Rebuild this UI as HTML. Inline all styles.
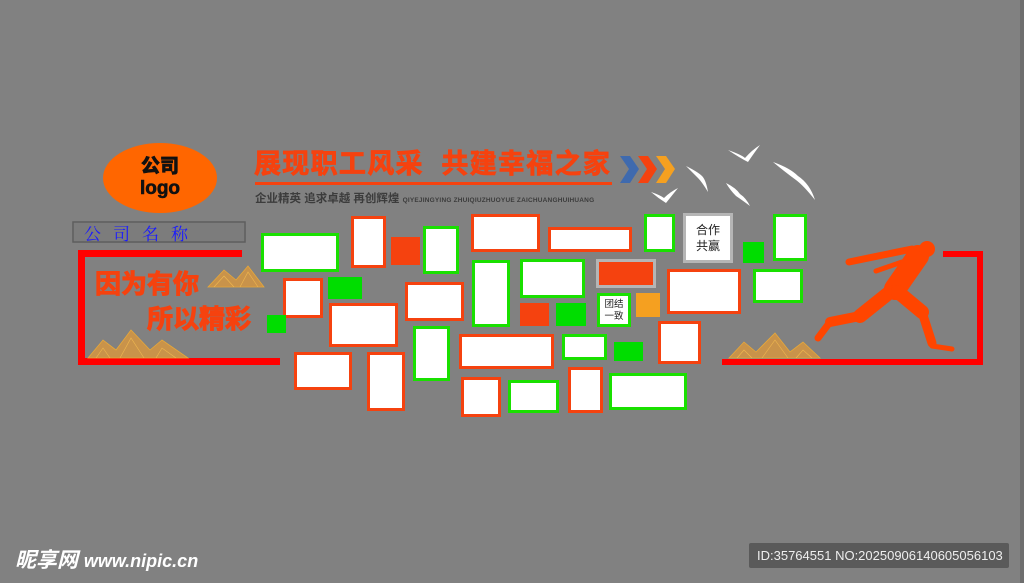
<!DOCTYPE html>
<html><head><meta charset="utf-8"><style>
*{margin:0;padding:0;box-sizing:border-box}
body{width:1024px;height:583px;background:#818181;position:relative;overflow:hidden;font-family:"Liberation Sans","Noto Sans CJK SC",sans-serif}
.a{position:absolute}
.r{position:absolute;background:#fff;border:3px solid #f5420f}
.g{position:absolute;background:#fff;border:3px solid #19e000}
.fr{position:absolute;background:#f5420f}
.fg{position:absolute;background:#00dd00}
</style></head><body>
<svg class="a" style="left:0;top:0" width="1024" height="583">
<ellipse cx="160" cy="178" rx="57" ry="35" fill="#ff6600"/>
<rect x="73" y="222" width="172" height="20" fill="#7c7c7c" stroke="#5e5e5e" stroke-width="1.5"/>
<rect x="78" y="250" width="164" height="7" fill="#ff0000"/>
<rect x="78" y="250" width="7" height="115" fill="#ff0000"/>
<rect x="78" y="358" width="202" height="7" fill="#ff0000"/>
<rect x="722" y="359" width="261" height="6" fill="#ff0000"/>
<rect x="977" y="251" width="6" height="114" fill="#ff0000"/>
<rect x="943" y="251" width="40" height="6" fill="#ff0000"/>
<g fill="#c9934a" stroke="#e8a838" stroke-width="0.8">
<polygon points="208,287 224,270 236,280 248,266 264,287"/>
<polygon points="88,358 103,340 116,350 131,330 150,350 162,340 188,358"/>
<polygon points="729,358 744,342 756,352 775,333 790,352 803,342 820,358"/>
</g>
<g fill="none" stroke="#f0b850" stroke-width="0.6">
<path d="M214,287 L224,276 L234,287 M240,287 L248,272 L258,287 M96,358 L103,348 L110,358 M120,358 L131,338 L144,358 M156,358 L162,348 L176,358 M737,358 L744,350 L752,358 M762,358 L775,340 L788,358 M796,358 L803,350 L812,358"/>
</g>
<rect x="255" y="182" width="357" height="3" fill="#f5420f"/>
<polygon points="620,156 630,156 639,169 630,183 620,183 629,169" fill="#3f6aae"/>
<polygon points="638,156 648,156 657,169 648,183 638,183 647,169" fill="#f5420f"/>
<polygon points="656,156 666,156 675,169 666,183 656,183 665,169" fill="#f5a020"/>
<g fill="#fff">
<path d="M728,150 Q742,155 745,158 Q752,150 760,145 Q752,156 748,162 Q740,158 728,150Z"/>
<path d="M686,166 Q698,172 702,176 Q706,180 708,192 Q702,182 698,178 Q692,172 686,166Z"/>
<path d="M773,162 Q790,168 798,176 Q810,184 815,200 Q804,186 796,180 Q785,172 773,162Z"/>
<path d="M726,183 Q736,188 740,194 Q746,198 750,206 Q742,200 736,196 Q730,190 726,183Z"/>
<path d="M651,192 Q660,195 664,198 Q670,192 678,188 Q670,198 666,203 Q658,198 651,192Z"/>
</g>
<g stroke="#ff4500" stroke-linecap="round" fill="none">
<line x1="849" y1="262" x2="912" y2="249" stroke-width="7"/>
<line x1="876" y1="271" x2="902" y2="262" stroke-width="5"/>
<line x1="918" y1="256" x2="895" y2="289" stroke-width="22"/>
<line x1="890" y1="292" x2="860" y2="316" stroke-width="14"/>
<line x1="860" y1="316" x2="830" y2="322" stroke-width="10"/>
<line x1="830" y1="322" x2="818" y2="338" stroke-width="7"/>
<line x1="898" y1="292" x2="922" y2="312" stroke-width="14"/>
<line x1="922" y1="312" x2="932" y2="343" stroke-width="9"/>
<line x1="932" y1="346" x2="952" y2="349" stroke-width="5"/>
</g>
<circle cx="927" cy="249" r="8" fill="#ff4500"/>
</svg>
<div class="a" style="left:103px;top:156px;width:114px;text-align:center;font-weight:900;font-size:19px;line-height:22px;color:#111;-webkit-text-stroke:0.6px #111">公司<br>logo</div>
<div class="a" style="left:84px;top:220px;font-size:17px;letter-spacing:12px;color:#1a1aff;font-family:'Noto Serif CJK SC',serif">公司名称</div>
<div class="a" style="left:95px;top:270px;font-size:26px;font-weight:bold;color:#f5420f;line-height:28px;-webkit-text-stroke:1px #f5420f">因为有你</div>
<div class="a" style="left:147px;top:305px;font-size:26px;font-weight:bold;color:#f5420f;line-height:28px;-webkit-text-stroke:1px #f5420f">所以精彩</div>
<div class="a" style="left:254px;top:149px;font-size:27px;letter-spacing:1.3px;font-weight:bold;color:#f5420f;line-height:30px;white-space:nowrap;-webkit-text-stroke:0.8px #f5420f">展现职工风采&nbsp;&nbsp;共建幸福之家</div>
<div class="a" style="left:255px;top:190px;font-size:11.5px;font-weight:bold;color:#3c3c3c;white-space:nowrap">企业精英 追求卓越 再创辉煌 <span style="font-size:6.5px;letter-spacing:0.2px">QIYEJINGYING ZHUIQIUZHUOYUE ZAICHUANGHUIHUANG</span></div>

<div class="g" style="left:261px;top:233px;width:78px;height:39px"></div>
<div class="r" style="left:351px;top:216px;width:35px;height:52px"></div>
<div class="fr" style="left:391px;top:237px;width:29px;height:28px"></div>
<div class="g" style="left:423px;top:226px;width:36px;height:48px"></div>
<div class="r" style="left:283px;top:278px;width:40px;height:40px"></div>
<div class="fg" style="left:328px;top:277px;width:34px;height:22px"></div>
<div class="fg" style="left:267px;top:315px;width:19px;height:18px"></div>
<div class="r" style="left:329px;top:303px;width:69px;height:44px"></div>
<div class="r" style="left:405px;top:282px;width:59px;height:39px"></div>
<div class="g" style="left:413px;top:326px;width:37px;height:55px"></div>
<div class="r" style="left:294px;top:352px;width:58px;height:38px"></div>
<div class="r" style="left:367px;top:352px;width:38px;height:59px"></div>

<div class="r" style="left:471px;top:214px;width:69px;height:38px"></div>
<div class="r" style="left:548px;top:227px;width:84px;height:25px"></div>
<div class="g" style="left:644px;top:214px;width:31px;height:38px"></div>
<div class="a" style="left:683px;top:213px;width:50px;height:50px;background:#fff;border:3px solid #b5b5b5;font-size:12px;line-height:16px;text-align:center;padding-top:6px;color:#222">合作<br>共赢</div>
<div class="fg" style="left:743px;top:242px;width:21px;height:21px"></div>
<div class="g" style="left:773px;top:214px;width:34px;height:47px"></div>
<div class="g" style="left:472px;top:260px;width:38px;height:67px"></div>
<div class="g" style="left:520px;top:259px;width:65px;height:39px"></div>
<div class="fr" style="left:596px;top:259px;width:60px;height:29px;border:3px solid #b5b5b5"></div>
<div class="r" style="left:667px;top:269px;width:74px;height:45px"></div>
<div class="g" style="left:753px;top:269px;width:50px;height:34px"></div>
<div class="fr" style="left:520px;top:303px;width:29px;height:23px"></div>
<div class="fg" style="left:556px;top:303px;width:30px;height:23px"></div>
<div class="g" style="left:597px;top:293px;width:34px;height:34px;font-size:9.5px;line-height:12px;text-align:center;padding-top:3px;color:#222">团结<br>一致</div>
<div class="a" style="left:636px;top:293px;width:24px;height:24px;background:#f5a020"></div>
<div class="r" style="left:658px;top:321px;width:43px;height:43px"></div>
<div class="r" style="left:459px;top:334px;width:95px;height:35px"></div>
<div class="g" style="left:562px;top:334px;width:45px;height:26px"></div>
<div class="fg" style="left:614px;top:342px;width:29px;height:19px"></div>
<div class="r" style="left:461px;top:377px;width:40px;height:40px"></div>
<div class="g" style="left:508px;top:380px;width:51px;height:33px"></div>
<div class="r" style="left:568px;top:367px;width:35px;height:46px"></div>
<div class="g" style="left:609px;top:373px;width:78px;height:37px"></div>

<div class="a" style="left:15px;top:544px;font-size:21px;font-weight:bold;font-style:italic;color:#fff;white-space:nowrap">昵享网 <span style="font-size:18px">www.nipic.cn</span></div>
<div class="a" style="left:749px;top:543px;width:260px;height:25px;background:#5a5a5a;border-radius:2px;color:#eee;font-size:13px;line-height:25px;padding-left:8px;white-space:nowrap">ID:35764551 NO:20250906140605056103</div>
<div class="a" style="left:1020px;top:0;width:4px;height:583px;background:#6e6e6e"></div>
</body></html>
